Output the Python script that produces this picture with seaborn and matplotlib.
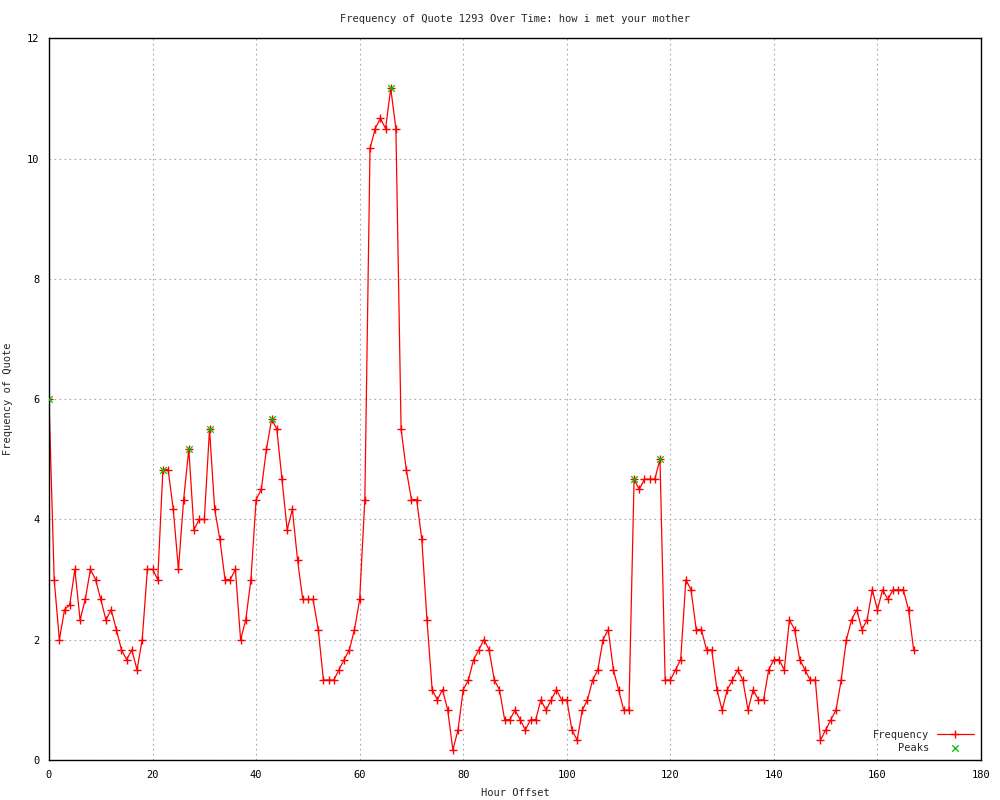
import numpy as np
import pandas as pd
import matplotlib
matplotlib.use('Agg')
import matplotlib.pyplot as plt
import seaborn as sns

# hourly frequency values (hours 0..167)
freq = [6.0, 3.0, 2.0, 2.5, 2.58, 3.17, 2.33, 2.67, 3.17, 3.0,
        2.67, 2.33, 2.5, 2.17, 1.83, 1.67, 1.83, 1.5, 2.0, 3.17,
        3.17, 3.0, 4.83, 4.83, 4.17, 3.17, 4.33, 5.17, 3.83, 4.0,
        4.0, 5.5, 4.17, 3.67, 3.0, 3.0, 3.17, 2.0, 2.33, 3.0,
        4.33, 4.5, 5.17, 5.67, 5.5, 4.67, 3.83, 4.17, 3.33, 2.67,
        2.67, 2.67, 2.17, 1.33, 1.33, 1.33, 1.5, 1.67, 1.83, 2.17,
        2.67, 4.33, 10.17, 10.5, 10.67, 10.5, 11.17, 10.5, 5.5, 4.83,
        4.33, 4.33, 3.67, 2.33, 1.17, 1.0, 1.17, 0.83, 0.17, 0.5,
        1.17, 1.33, 1.67, 1.83, 2.0, 1.83, 1.33, 1.17, 0.67, 0.67,
        0.83, 0.67, 0.5, 0.67, 0.67, 1.0, 0.83, 1.0, 1.17, 1.0,
        1.0, 0.5, 0.33, 0.83, 1.0, 1.33, 1.5, 2.0, 2.17, 1.5,
        1.17, 0.83, 0.83, 4.67, 4.5, 4.67, 4.67, 4.67, 5.0, 1.33,
        1.33, 1.5, 1.67, 3.0, 2.83, 2.17, 2.17, 1.83, 1.83, 1.17,
        0.83, 1.17, 1.33, 1.5, 1.33, 0.83, 1.17, 1.0, 1.0, 1.5,
        1.67, 1.67, 1.5, 2.33, 2.17, 1.67, 1.5, 1.33, 1.33, 0.33,
        0.5, 0.67, 0.83, 1.33, 2.0, 2.33, 2.5, 2.17, 2.33, 2.83,
        2.5, 2.83, 2.67, 2.83, 2.83, 2.83, 2.5, 1.83]
hours = list(range(len(freq)))

# hours flagged as peaks (green x)
peak_hours = [0, 22, 27, 31, 43, 66, 113, 118]

df = pd.DataFrame({'hour': hours, 'freq': freq})
peaks = df[df['hour'].isin(peak_hours)]

sns.set_style('white')
plt.rcParams['font.family'] = ['DejaVu Sans Mono']
plt.rcParams['font.size'] = 7.5

fig = plt.figure(figsize=(10, 8), dpi=100)
ax = fig.add_axes([0.049, 0.05, 0.932, 0.902])

sns.lineplot(data=df, x='hour', y='freq', ax=ax, color='red', linewidth=0.9,
             marker='+', markersize=5.5, markeredgewidth=1.0, markeredgecolor='red',
             label='Frequency')
sns.scatterplot(data=peaks, x='hour', y='freq', ax=ax, color='#00c000', marker='x',
                s=22, linewidth=0.9, label='Peaks', zorder=5)

ax.set_xlim(0, 180)
ax.set_ylim(0, 12)
ax.set_xticks(range(0, 181, 20))
ax.set_yticks(range(0, 13, 2))
ax.grid(True, color='#a8a8a8', linestyle=(0, (1.5, 3)), linewidth=0.8)
ax.tick_params(direction='in', length=8, width=1, colors='black', labelsize=7.5, pad=7)
for s in ax.spines.values():
    s.set_color('black')
    s.set_linewidth(1)

ax.set_title('Frequency of Quote 1293 Over Time: how i met your mother', fontsize=7.5, pad=12)
ax.set_xlabel('Hour Offset', fontsize=7.5, labelpad=6)
ax.set_ylabel('Frequency of Quote', fontsize=7.5, labelpad=10)

ax.legend(loc='lower right', frameon=False, markerfirst=False, fontsize=7.5,
          handlelength=3.5, borderaxespad=0.3, labelspacing=0.3)

fig.savefig('out.png', dpi=100)
